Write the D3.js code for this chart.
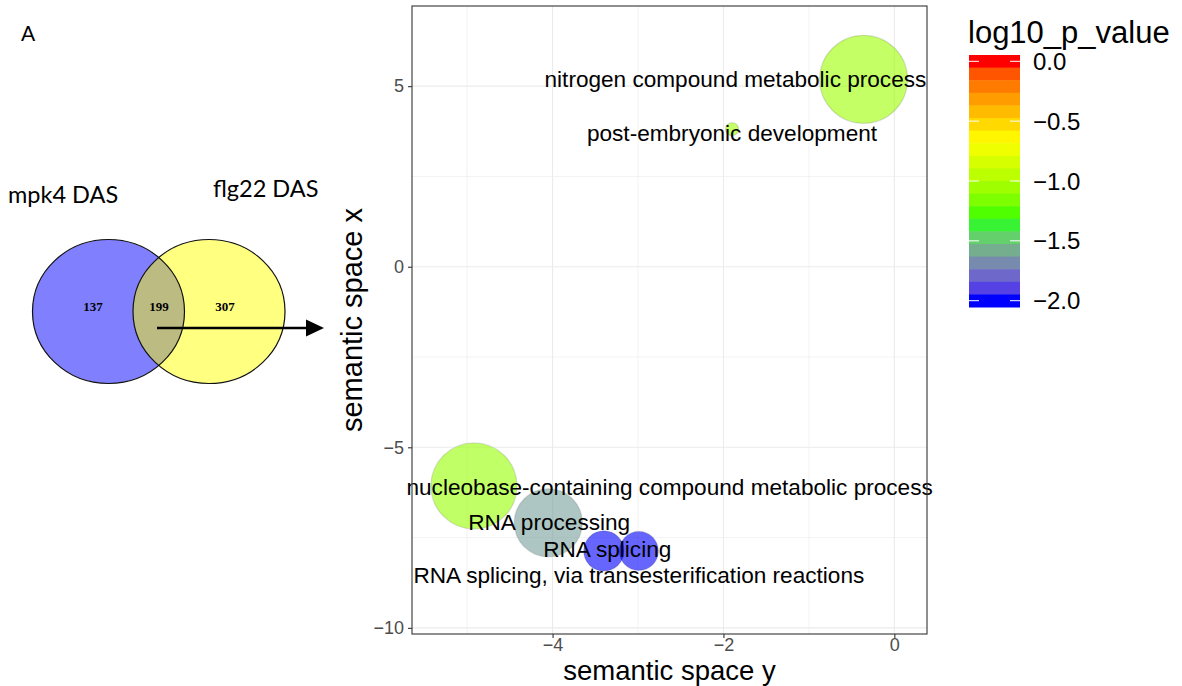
<!DOCTYPE html>
<html>
<head>
<meta charset="utf-8">
<script src="https://cdn.jsdelivr.net/npm/d3@7"></script>
<style>
  body { margin: 0; background: #fff; }
  svg { display: block; }
</style>
</head>
<body>
<svg id="chart" width="1182" height="686"></svg>
<script>
// GO terms (REVIGO style summary)
const terms = [
  'nitrogen compound metabolic process',
  'post\u2010embryonic development',
  'nucleobase\u2010containing compound metabolic process',
  'RNA processing',
  'RNA splicing',
  'RNA splicing, via transesterification reactions'
];
const plotX = [-0.36, -1.90, -4.92, -4.05, -3.40, -2.99];
const plotY = [5.19, 3.81, -6.07, -7.09, -7.87, -7.87];
const logSize = [4.50, 2.00, 4.37, 3.35, 2.33, 2.30];
const log10P = [-1.06, -1.05, -1.08, -1.62, -2.0, -2.0];
const labelX = [-1.86, -1.90, -2.63, -4.04, -3.36, -2.99];
const labelY = [5.19, 3.70, -6.10, -7.09, -7.82, -8.54];

const xMajor = [-4, -2, 0];
const xMinor = [-5, -3, -1];
const yMajor = [5, 0, -5, -10];
const yMinor = [2.5, -2.5, -7.5];
const legendTicks = [0, -0.5, -1, -1.5, -2];

// Venn diagram
const vennSets = ['mpk4 DAS', 'flg22 DAS'];
const vennCounts = [137, 199, 307];

const svg = d3.select('#chart');
const font = "'Liberation Sans', Arial, sans-serif";

// ---------- panel A label + venn ----------
svg.append('text')
  .attr('x', 21).attr('y', 41)
  .attr('font-family', 'Lato, sans-serif').attr('font-size', 21)
  .text('A');

const venn = svg.append('g');
const cy = 311.5, rx = 76, ry = 72;
const cxBlue = 108.5, cxYellow = 209;

svg.append('defs').append('clipPath').attr('id', 'blueClip')
  .append('ellipse').attr('cx', cxBlue).attr('cy', cy).attr('rx', rx).attr('ry', ry);

venn.append('ellipse').attr('cx', cxBlue).attr('cy', cy).attr('rx', rx).attr('ry', ry)
  .attr('fill', '#8080ff');
venn.append('ellipse').attr('cx', cxYellow).attr('cy', cy).attr('rx', rx).attr('ry', ry)
  .attr('fill', '#ffff80');
venn.append('ellipse').attr('cx', cxYellow).attr('cy', cy).attr('rx', rx).attr('ry', ry)
  .attr('fill', '#bbbb82').attr('clip-path', 'url(#blueClip)');
venn.selectAll('ellipse.outline')
  .data([cxBlue, cxYellow])
  .join('ellipse')
  .attr('class', 'outline')
  .attr('cx', d => d).attr('cy', cy).attr('rx', rx).attr('ry', ry)
  .attr('fill', 'none').attr('stroke', '#111').attr('stroke-width', 1.2);

venn.selectAll('text.count')
  .data(vennCounts)
  .join('text')
  .attr('class', 'count')
  .attr('x', (d, i) => [93, 159, 225][i])
  .attr('y', 311)
  .attr('text-anchor', 'middle')
  .attr('font-family', "'Liberation Serif', 'Times New Roman', serif")
  .attr('font-weight', 'bold').attr('font-size', 13)
  .text(d => d);

venn.selectAll('text.setname')
  .data(vennSets)
  .join('text')
  .attr('class', 'setname')
  .attr('x', (d, i) => [8, 213][i])
  .attr('y', (d, i) => [203, 197][i])
  .attr('font-family', 'Lato, sans-serif').attr('font-size', 23.5)
  .text(d => d);

// arrow
venn.append('line')
  .attr('x1', 157).attr('y1', 328).attr('x2', 309).attr('y2', 328)
  .attr('stroke', '#000').attr('stroke-width', 2.5);
venn.append('path')
  .attr('d', 'M306,319.5 L324,328 L306,336.5 Z')
  .attr('fill', '#000');

// ---------- bubble plot ----------
const panel = { left: 412, right: 927, top: 6, bottom: 634 };
const x = d3.scaleLinear().domain([-5.645, 0.382]).range([panel.left, panel.right]);
const y = d3.scaleLinear().domain([7.22, -10.17]).range([panel.top, panel.bottom]);

const color = d3.scaleLinear()
  .domain([-2, -4 / 3, -2 / 3, 0])
  .range(['#0000ff', '#00ff00', '#ffff00', '#ff0000'])
  .interpolate(d3.interpolateLab)
  .clamp(true);

const sizeNorm = d3.scaleLinear().domain(d3.extent(logSize)).range([0, 1]);
const rScale = d3.scaleSqrt().domain([0, 1]).range([6.5, 44]);

const grid = svg.append('g');
grid.selectAll('line.xmin').data(xMinor).join('line')
  .attr('x1', d => x(d)).attr('x2', d => x(d))
  .attr('y1', panel.top).attr('y2', panel.bottom)
  .attr('stroke', '#ebebeb').attr('stroke-width', 0.6);
grid.selectAll('line.ymin').data(yMinor).join('line')
  .attr('y1', d => y(d)).attr('y2', d => y(d))
  .attr('x1', panel.left).attr('x2', panel.right)
  .attr('stroke', '#ebebeb').attr('stroke-width', 0.6);
grid.selectAll('line.xmaj').data(xMajor).join('line')
  .attr('x1', d => x(d)).attr('x2', d => x(d))
  .attr('y1', panel.top).attr('y2', panel.bottom)
  .attr('stroke', '#ebebeb').attr('stroke-width', 1.1);
grid.selectAll('line.ymaj').data(yMajor).join('line')
  .attr('y1', d => y(d)).attr('y2', d => y(d))
  .attr('x1', panel.left).attr('x2', panel.right)
  .attr('stroke', '#ebebeb').attr('stroke-width', 1.1);

const terms_data = terms.map((t, i) => ({
  term: t, px: plotX[i], py: plotY[i], size: logSize[i], p: log10P[i],
  lx: labelX[i], ly: labelY[i]
}));

svg.append('clipPath').attr('id', 'panelClip')
  .append('rect').attr('x', panel.left).attr('y', panel.top)
  .attr('width', panel.right - panel.left).attr('height', panel.bottom - panel.top);

svg.append('g').attr('clip-path', 'url(#panelClip)')
  .selectAll('circle')
  .data(terms_data)
  .join('circle')
  .attr('cx', d => x(d.px))
  .attr('cy', d => y(d.py))
  .attr('r', d => rScale(sizeNorm(d.size)))
  .attr('fill', d => color(d.p))
  .attr('fill-opacity', 0.6)
  .attr('stroke', '#000').attr('stroke-opacity', 0.12).attr('stroke-width', 1.3);

svg.append('g')
  .selectAll('text')
  .data(terms_data)
  .join('text')
  .attr('x', d => x(d.lx))
  .attr('y', d => y(d.ly))
  .attr('text-anchor', 'middle')
  .attr('dominant-baseline', 'central')
  .attr('font-family', font).attr('font-size', 22.6)
  .attr('fill', '#000')
  .text(d => d.term);

// axes
const xAxis = svg.append('g')
  .attr('transform', `translate(0,${panel.bottom})`)
  .call(d3.axisBottom(x).tickValues(xMajor).tickFormat(d3.format('d')).tickSize(4).tickPadding(0.5));
const yAxis = svg.append('g')
  .attr('transform', `translate(${panel.left},0)`)
  .call(d3.axisLeft(y).tickValues(yMajor).tickFormat(d3.format('d')).tickSize(4).tickPadding(4));
[xAxis, yAxis].forEach(g => {
  g.select('.domain').remove();
  g.selectAll('.tick line').attr('stroke', '#333').attr('stroke-width', 1.1);
  g.selectAll('.tick text').attr('fill', '#4d4d4d')
    .attr('font-family', font).attr('font-size', 18);
});

svg.append('rect')
  .attr('x', panel.left).attr('y', panel.top)
  .attr('width', panel.right - panel.left).attr('height', panel.bottom - panel.top)
  .attr('fill', 'none').attr('stroke', '#333').attr('stroke-width', 1.1);

svg.append('text')
  .attr('x', (panel.left + panel.right) / 2).attr('y', 680)
  .attr('text-anchor', 'middle')
  .attr('font-family', font).attr('font-size', 27.5)
  .text('semantic space y');

svg.append('text')
  .attr('transform', `translate(362,${(panel.top + panel.bottom) / 2}) rotate(-90)`)
  .attr('text-anchor', 'middle')
  .attr('font-family', font).attr('font-size', 29)
  .text('semantic space x');

// ---------- colour legend ----------
const bar = { x: 969, y: 55, w: 51, h: 252, nbin: 20 };
const binVals = d3.range(bar.nbin).map(i => 0 + i * (-2 - 0) / (bar.nbin - 1));
const legend = svg.append('g');
legend.selectAll('rect')
  .data(binVals)
  .join('rect')
  .attr('x', bar.x)
  .attr('y', (d, i) => bar.y + i * bar.h / bar.nbin)
  .attr('width', bar.w)
  .attr('height', bar.h / bar.nbin + 0.5)
  .attr('fill', d => color(d));

const ly = d3.scaleLinear().domain([0, -2])
  .range([bar.y + bar.h / bar.nbin / 2, bar.y + bar.h - bar.h / bar.nbin / 2]);

legend.selectAll('g.lt')
  .data(legendTicks)
  .join('g')
  .attr('class', 'lt')
  .each(function (d) {
    const g = d3.select(this);
    g.append('line').attr('x1', bar.x).attr('x2', bar.x + 10)
      .attr('y1', ly(d)).attr('y2', ly(d)).attr('stroke', '#fff').attr('stroke-width', 1);
    g.append('line').attr('x1', bar.x + bar.w - 10).attr('x2', bar.x + bar.w)
      .attr('y1', ly(d)).attr('y2', ly(d)).attr('stroke', '#fff').attr('stroke-width', 1);
    g.append('text').attr('x', 1033).attr('y', ly(d))
      .attr('dominant-baseline', 'central')
      .attr('font-family', font).attr('font-size', 24)
      .text(d3.format('.1f')(d));
  });

legend.append('text')
  .attr('x', 968).attr('y', 43)
  .attr('font-family', font).attr('font-size', 31)
  .text('log10_p_value');
</script>
</body>
</html>
